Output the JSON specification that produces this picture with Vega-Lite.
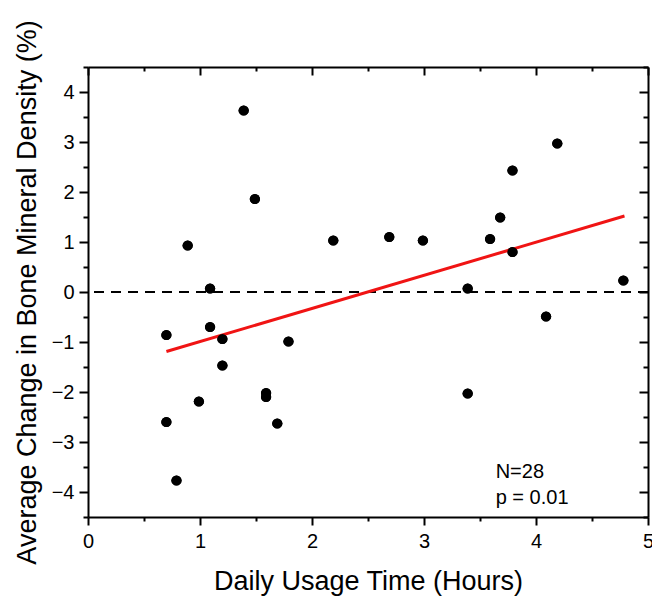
{
  "$schema": "https://vega.github.io/schema/vega-lite/v6.json",
  "width": 560,
  "height": 450,
  "autosize": {"type": "none"},
  "padding": {"left": 88, "top": 67, "right": 4, "bottom": 80},
  "background": "white",
  "config": {
    "view": {"stroke": null},
    "font": "Liberation Sans",
    "axis": {
      "grid": false,
      "domainColor": "black",
      "domainWidth": 2,
      "tickColor": "black",
      "tickWidth": 2,
      "labelColor": "black",
      "labelFont": "Liberation Sans",
      "labelFontSize": 20,
      "titleFont": "Liberation Sans",
      "titleFontSize": 27,
      "titleFontWeight": "normal",
      "titleColor": "black",
      "labelOverlap": false,
      "labelFlush": false
    }
  },
  "datasets": {
    "pts": [
      {"hours": 0.7, "bmd": -0.86},
      {"hours": 0.7, "bmd": -2.6},
      {"hours": 0.79, "bmd": -3.77},
      {"hours": 0.89, "bmd": 0.93},
      {"hours": 0.99, "bmd": -2.19},
      {"hours": 1.09, "bmd": 0.07},
      {"hours": 1.09, "bmd": -0.7},
      {"hours": 1.2, "bmd": -0.94},
      {"hours": 1.2, "bmd": -1.47},
      {"hours": 1.39, "bmd": 3.63},
      {"hours": 1.49, "bmd": 1.86},
      {"hours": 1.59, "bmd": -2.02},
      {"hours": 1.59, "bmd": -2.1},
      {"hours": 1.69, "bmd": -2.63},
      {"hours": 1.79, "bmd": -0.99},
      {"hours": 2.19, "bmd": 1.03},
      {"hours": 2.69, "bmd": 1.1},
      {"hours": 2.99, "bmd": 1.03},
      {"hours": 3.39, "bmd": 0.07},
      {"hours": 3.39, "bmd": -2.03},
      {"hours": 3.59, "bmd": 1.06},
      {"hours": 3.68, "bmd": 1.49},
      {"hours": 3.79, "bmd": 2.43},
      {"hours": 3.79, "bmd": 0.8},
      {"hours": 4.09, "bmd": -0.49},
      {"hours": 4.19, "bmd": 2.97},
      {"hours": 4.78, "bmd": 0.23}
    ],
    "fit": [
      {"hours": 0.7, "bmd": -1.19},
      {"hours": 4.79, "bmd": 1.52}
    ],
    "notes": [
      {"hours": 3.64, "bmd": -3.71, "label": "N=28"},
      {"hours": 3.64, "bmd": -4.23, "label": "p = 0.01"}
    ],
    "zero": [
      {"level": 0}
    ]
  },
  "layer": [
    {
      "data": {"name": "pts"},
      "mark": {"type": "circle", "size": 105, "color": "black", "opacity": 1},
      "encoding": {
        "x": {
          "field": "hours", "type": "quantitative",
          "scale": {"domain": [0, 5], "nice": false, "zero": false},
          "axis": {
            "orient": "bottom",
            "title": "Daily Usage Time (Hours)",
            "values": [0, 0.5, 1, 1.5, 2, 2.5, 3, 3.5, 4, 4.5, 5],
            "labelExpr": "datum.value % 1 === 0 ? format(datum.value, 'd') : ''",
            "tickSize": {"condition": {"test": "datum.value % 1 === 0", "value": 8}, "value": 4},
            "labelPadding": 6,
            "titlePadding": 17
          }
        },
        "y": {
          "field": "bmd", "type": "quantitative",
          "scale": {"domain": [-4.5, 4.5], "nice": false, "zero": false},
          "axis": {
            "orient": "left",
            "title": "Average Change in Bone Mineral Density (%)",
            "values": [-4.5, -4, -3.5, -3, -2.5, -2, -1.5, -1, -0.5, 0, 0.5, 1, 1.5, 2, 2.5, 3, 3.5, 4, 4.5],
            "labelExpr": "datum.value % 1 === 0 ? format(datum.value, 'd') : ''",
            "tickSize": {"condition": {"test": "datum.value % 1 === 0", "value": 9}, "value": 5},
            "labelPadding": 5,
            "titlePadding": 10
          }
        }
      }
    },
    {
      "data": {"name": "zero"},
      "mark": {"type": "rule", "color": "black", "strokeWidth": 2, "strokeDash": [10, 7]},
      "encoding": {
        "y": {"field": "level", "type": "quantitative", "axis": null}
      }
    },
    {
      "data": {"name": "pts"},
      "mark": {"type": "circle", "opacity": 0},
      "encoding": {
        "x": {
          "field": "hours", "type": "quantitative",
          "axis": {
            "orient": "top",
            "title": null,
            "labels": false,
            "values": [0, 0.5, 1, 1.5, 2, 2.5, 3, 3.5, 4, 4.5, 5],
            "tickSize": {"condition": {"test": "datum.value % 1 === 0", "value": -8}, "value": -4}
          }
        },
        "y": {
          "field": "bmd", "type": "quantitative",
          "axis": {
            "orient": "right",
            "title": null,
            "labels": false,
            "values": [-4.5, -4, -3.5, -3, -2.5, -2, -1.5, -1, -0.5, 0, 0.5, 1, 1.5, 2, 2.5, 3, 3.5, 4, 4.5],
            "tickSize": {"condition": {"test": "datum.value % 1 === 0", "value": -9}, "value": -5}
          }
        }
      }
    },
    {
      "data": {"name": "fit"},
      "mark": {"type": "line", "color": "#f01414", "strokeWidth": 3},
      "encoding": {
        "x": {"field": "hours", "type": "quantitative", "axis": null},
        "y": {"field": "bmd", "type": "quantitative", "axis": null}
      }
    },
    {
      "data": {"name": "pts"},
      "mark": {"type": "circle", "size": 105, "color": "black", "opacity": 1},
      "encoding": {
        "x": {"field": "hours", "type": "quantitative", "axis": null},
        "y": {"field": "bmd", "type": "quantitative", "axis": null}
      }
    },
    {
      "data": {"name": "notes"},
      "mark": {"type": "text", "align": "left", "baseline": "alphabetic", "fontSize": 20, "font": "Liberation Sans", "color": "black"},
      "encoding": {
        "x": {"field": "hours", "type": "quantitative", "axis": null},
        "y": {"field": "bmd", "type": "quantitative", "axis": null},
        "text": {"field": "label"}
      }
    }
  ],
  "resolve": {"axis": {"x": "independent", "y": "independent"}}
}
